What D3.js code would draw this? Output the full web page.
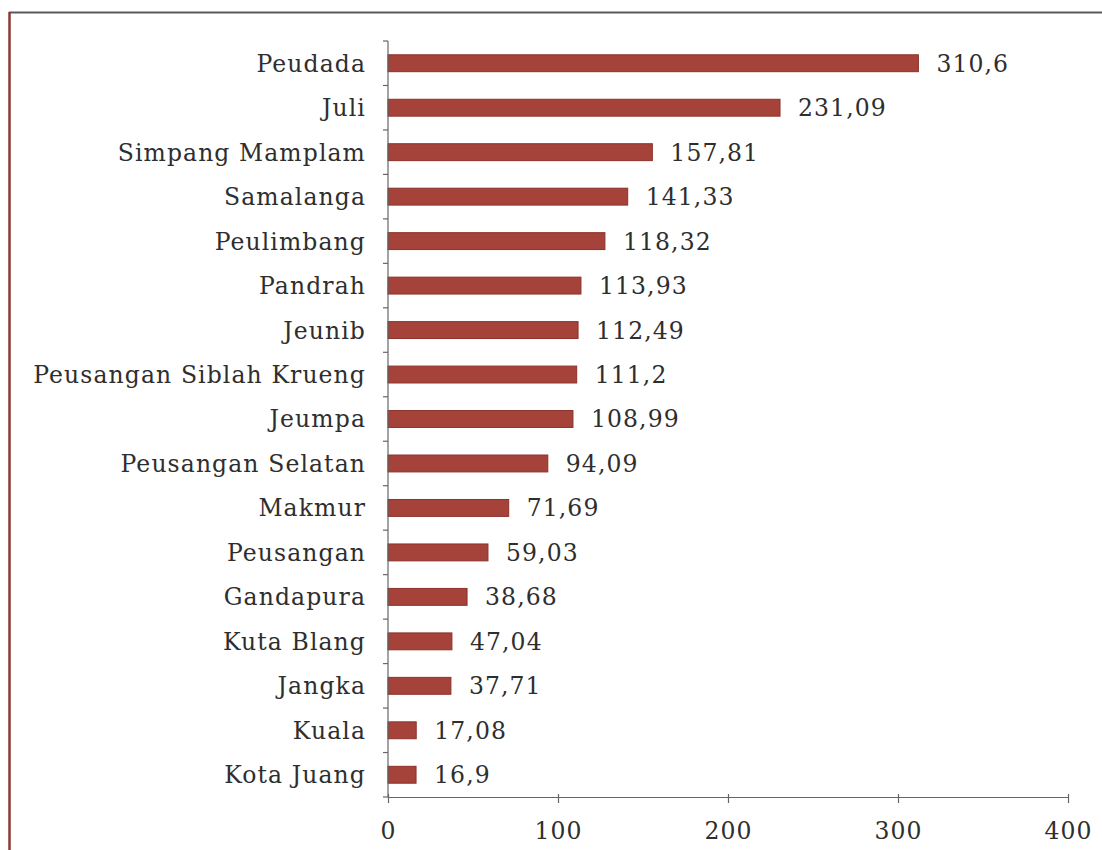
<!DOCTYPE html>
<html>
<head>
<meta charset="utf-8">
<script src="https://cdn.jsdelivr.net/npm/d3@7"></script>
<style>
  html, body { margin: 0; padding: 0; background: #ffffff; }
  svg { display: block; }
</style>
</head>
<body>
<svg id="chart" width="1102" height="850"></svg>
<script>
const categories = ["Peudada","Juli","Simpang Mamplam","Samalanga","Peulimbang","Pandrah","Jeunib","Peusangan Siblah Krueng","Jeumpa","Peusangan Selatan","Makmur","Peusangan","Gandapura","Kuta Blang","Jangka","Kuala","Kota Juang"];
// bar lengths as drawn in the picture
const barValues = [312, 230.6, 155.5, 141, 127.6, 113.5, 111.8, 111, 108.8, 94, 71, 58.8, 46.5, 37.6, 37, 16.6, 16.5];
// value labels as printed in the picture
const valueLabels = ["310,6","231,09","157,81","141,33","118,32","113,93","112,49","111,2","108,99","94,09","71,69","59,03","38,68","47,04","37,71","17,08","16,9"];
const xTicks = [0, 100, 200, 300, 400];

const svg = d3.select("#chart");
const font = "'DejaVu Serif', 'Liberation Serif', serif";
const fs = 23.5;
const ls = "1.1px";
const txtColor = "#2e2e2e";

// frame
svg.append("line").attr("x1", 9).attr("x2", 1102).attr("y1", 12.5).attr("y2", 12.5)
  .attr("stroke", "#5a5a5a").attr("stroke-width", 2);
svg.append("line").attr("x1", 9.5).attr("x2", 9.5).attr("y1", 12).attr("y2", 850)
  .attr("stroke", "#8a3a32").attr("stroke-width", 2.5);

const x = d3.scaleLinear().domain([0, 400]).range([388, 1068]);
const y = d3.scaleBand().domain(categories).range([41, 797]).paddingInner(0.62).paddingOuter(0.31);

// bars
svg.append("g").selectAll("rect").data(categories).join("rect")
  .attr("x", x(0))
  .attr("y", d => y(d))
  .attr("width", (d, i) => x(barValues[i]) - x(0))
  .attr("height", y.bandwidth())
  .attr("fill", "#a5433a")
  .attr("stroke", "#8c3229")
  .attr("stroke-width", 1);

// value labels
svg.append("g").selectAll("text").data(categories).join("text")
  .attr("x", (d, i) => x(barValues[i]) + 18)
  .attr("y", d => y(d) + y.bandwidth() / 2)
  .attr("dy", "0.36em")
  .attr("font-family", font)
  .attr("font-size", fs)
  .attr("letter-spacing", ls)
  .attr("fill", txtColor)
  .text((d, i) => valueLabels[i]);

// y axis
const yAxis = svg.append("g").attr("transform", `translate(${x(0)},0)`);
yAxis.append("line").attr("x1", 0).attr("x2", 0).attr("y1", 41).attr("y2", 797)
  .attr("stroke", "#666").attr("stroke-width", 1.2);
const boundaries = d3.range(categories.length + 1).map(i => 41 + i * (756 / categories.length));
yAxis.selectAll("line.tick").data(boundaries).join("line").attr("class", "tick")
  .attr("x1", -5).attr("x2", 0).attr("y1", d => d).attr("y2", d => d)
  .attr("stroke", "#666").attr("stroke-width", 1.2);
yAxis.selectAll("text").data(categories).join("text")
  .attr("x", -22)
  .attr("y", d => y(d) + y.bandwidth() / 2)
  .attr("dy", "0.36em")
  .attr("text-anchor", "end")
  .attr("font-family", font)
  .attr("font-size", fs)
  .attr("letter-spacing", ls)
  .attr("fill", txtColor)
  .text(d => d);

// x axis
const xAxisG = svg.append("g").attr("transform", "translate(0,797)")
  .call(d3.axisBottom(x).tickValues(xTicks).tickSize(6).tickSizeOuter(0).tickFormat(d3.format("d")));
xAxisG.select(".domain").attr("stroke", "#666").attr("stroke-width", 1.2);
xAxisG.selectAll(".tick line").attr("stroke", "#666").attr("stroke-width", 1.2).attr("y1", -3);
xAxisG.selectAll(".tick text")
  .attr("font-family", font).attr("font-size", fs).attr("letter-spacing", ls)
  .attr("fill", txtColor).attr("y", 25);
</script>
</body>
</html>
